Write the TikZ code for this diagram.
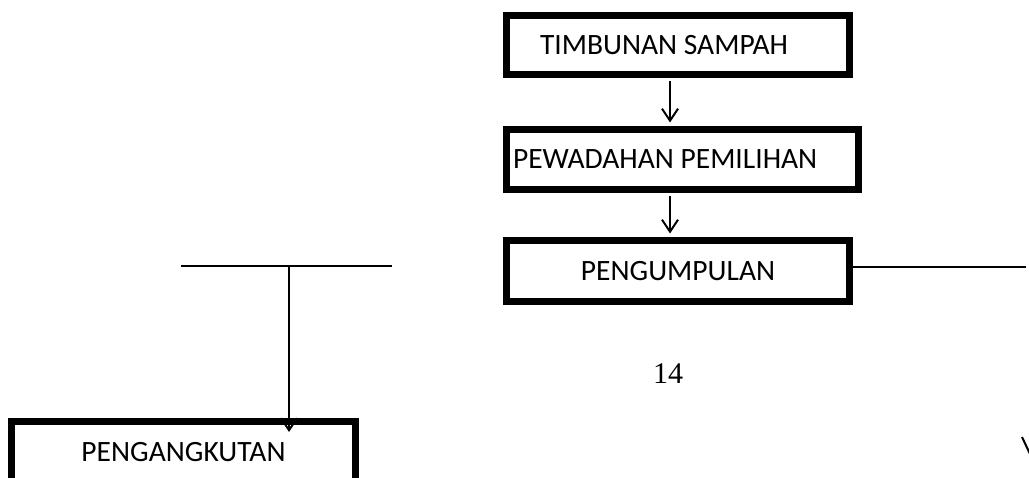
\documentclass[tikz,border=0pt]{standalone}
\usepackage{fontspec}
\setmainfont{Carlito}
\newfontfamily\pagenumfont{Liberation Serif}
\usetikzlibrary{arrows.meta,calc,positioning}
\tikzset{
  flowbox/.style={draw, line width=7pt, inner sep=0pt, font=\fontsize{29.5}{34}\selectfont},
  flowline/.style={line width=2pt},
  flowarrow/.style={line width=2pt, -{Straight Barb[length=12pt,width=16pt]}},
}

\begin{document}
\begin{tikzpicture}[x=1pt,y=-1pt]
  \useasboundingbox (0,0) rectangle (1029,478);
  % boxes of the flow
  \node[flowbox, minimum width=343pt, minimum height=59pt] (timbunan) at (678,45) {\makebox[276pt][l]{TIMBUNAN SAMPAH}};
  \node[flowbox, minimum width=352pt, minimum height=60pt] (pewadahan) at (682.5,159.5) {\makebox[339pt][l]{PEWADAHAN PEMILIHAN}};
  \node[flowbox, minimum width=343pt, minimum height=61pt] (pengumpulan) at (678,271) {PENGUMPULAN};
  \node[flowbox, minimum width=344pt, minimum height=61pt] (pengangkutan) at (183.5,452) {PENGANGKUTAN};
  \node[font=\pagenumfont\fontsize{30}{36}\selectfont] (pagenum) at (668,374) {14};
  % connectors
  \coordinate (lineL) at (181,266);
  \coordinate (lineR) at (392,266);
  \coordinate (junction) at (289,266);
  \coordinate (rightend) at (1026,267);
  \draw[flowarrow, shorten <=3.5pt, shorten >=3.5pt] ([xshift=-8pt]timbunan.south) -- ([xshift=-8pt]timbunan.south |- pewadahan.north);
  \draw[flowarrow, shorten <=3.5pt, shorten >=3.5pt] ([xshift=-12.5pt]pewadahan.south) -- ([xshift=-12.5pt]pewadahan.south |- pengumpulan.north);
  \draw[flowline] (lineL) -- (lineR);
  \draw[flowarrow, shorten >=-14pt] (junction) -- (junction |- pengangkutan.north);
  \draw[flowline] (pengumpulan.east |- rightend) -- (rightend);
  \draw[flowline] (1022,437) -- (1030,454);
\end{tikzpicture}
\end{document}
